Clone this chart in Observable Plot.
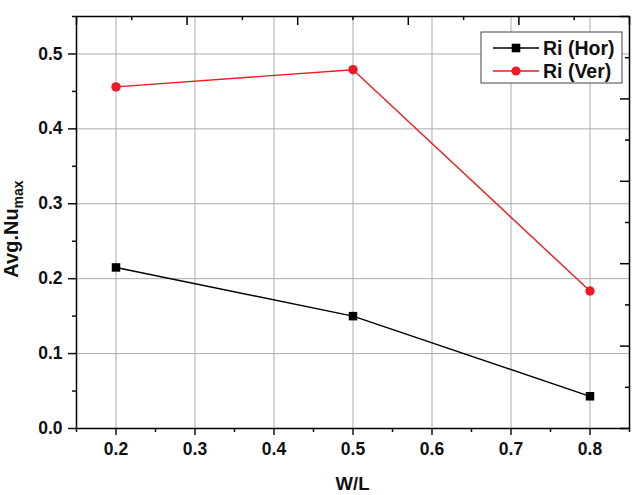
<!DOCTYPE html>
<html>
<head>
<meta charset="utf-8">
<script src="https://cdn.jsdelivr.net/npm/d3@7"></script>
<script src="https://cdn.jsdelivr.net/npm/@observablehq/plot@0.6"></script>
<style>
  body { margin: 0; background: #fff; }
  #chart svg { display: block; }
</style>
</head>
<body>
<div id="chart"></div>
<script>
// Data
const wl = [0.2, 0.5, 0.8];
const riHor = [0.215, 0.150, 0.043];
const riVer = [0.456, 0.479, 0.1835];
const seriesNames = ["Ri (Hor)", "Ri (Ver)"];

// Tick values
const xTicks = [0.2, 0.3, 0.4, 0.5, 0.6, 0.7, 0.8];
const xMinor = [0.15, 0.25, 0.35, 0.45, 0.55, 0.65, 0.75, 0.85];
const yTicks = [0.0, 0.1, 0.2, 0.3, 0.4, 0.5];
const yMinor = [0.05, 0.15, 0.25, 0.35, 0.45, 0.55];
// Top / right mirror axes (independent Origin-style ticks)
const topMajor = [0.15, 0.29, 0.43, 0.57, 0.71, 0.85];
const topMinor = [0.22, 0.36, 0.50, 0.64, 0.78];
const rightMajor = [0.0, 0.11, 0.22, 0.33, 0.44, 0.55];
const rightMinor = [0.055, 0.165, 0.275, 0.385, 0.495];

const hor = wl.map((x, i) => ({x, y: riHor[i]}));
const ver = wl.map((x, i) => ({x, y: riVer[i]}));

const W = 640, H = 495;
const mL = 76, mR = 11, mT = 16, mB = 67;
const innerW = W - mL - mR, innerH = H - mT - mB;
const red = "#ed1c24";
const grid = "#ababab";

const chart = Plot.plot({
  width: W, height: H,
  marginLeft: mL, marginRight: mR, marginTop: mT, marginBottom: mB,
  style: {fontFamily: "'Liberation Sans', Arial, sans-serif", fontSize: "17.5px", fontWeight: "bold", color: "#111", background: "#fff"},
  x: {domain: [0.15, 0.85]},
  y: {domain: [0, 0.55]},
  marks: [
    Plot.gridX(xTicks, {stroke: grid, strokeOpacity: 1, strokeWidth: 1}),
    Plot.gridY(yTicks, {stroke: grid, strokeOpacity: 1, strokeWidth: 1}),
    Plot.axisX(xTicks, {tickSize: 7, tickPadding: 7, tickFormat: d3.format(".1f"), label: null, strokeWidth: 1.5, fontSize: 17.5, fontWeight: "bold"}),
    Plot.axisX(xMinor, {tickSize: 4, tickFormat: () => "", label: null, strokeWidth: 1.5}),
    Plot.axisY(yTicks, {tickSize: 8, tickPadding: 6, tickFormat: d3.format(".1f"), label: null, strokeWidth: 1.5, fontSize: 17.5, fontWeight: "bold"}),
    Plot.axisY(yMinor, {tickSize: 4, tickFormat: () => "", label: null, strokeWidth: 1.5}),
    Plot.ruleX(topMajor, {x: d => d, insetBottom: innerH - 9, stroke: "black", strokeWidth: 1.5}),
    Plot.ruleX(topMinor, {x: d => d, insetBottom: innerH - 4, stroke: "black", strokeWidth: 1.5}),
    Plot.ruleY(rightMajor, {y: d => d, insetLeft: innerW - 9, stroke: "black", strokeWidth: 1.5}),
    Plot.ruleY(rightMinor, {y: d => d, insetLeft: innerW - 4, stroke: "black", strokeWidth: 1.5}),
    Plot.line(hor, {x: "x", y: "y", stroke: "black", strokeWidth: 1.4}),
    Plot.line(ver, {x: "x", y: "y", stroke: red, strokeWidth: 1.4}),
    Plot.dot(hor, {x: "x", y: "y", symbol: "square", r: 4.8, fill: "black", stroke: "none"}),
    Plot.dot(ver, {x: "x", y: "y", symbol: "circle", r: 4.7, fill: red, stroke: "none"}),
    Plot.frame({stroke: "black", strokeWidth: 1.5})
  ]
});

document.getElementById("chart").appendChild(chart);
const svg = d3.select(chart);
const ff = "'Liberation Sans', Arial, sans-serif";

// X title
svg.append("text")
  .attr("x", mL + innerW / 2).attr("y", 490)
  .attr("text-anchor", "middle")
  .attr("font-family", ff).attr("font-weight", "bold").attr("font-size", 18.5)
  .attr("fill", "#111")
  .text("W/L");

// Y title with subscript
const yt = svg.append("text")
  .attr("transform", `translate(18,${229}) rotate(-90)`)
  .attr("text-anchor", "middle")
  .attr("font-family", ff).attr("font-weight", "bold").attr("font-size", 20)
  .attr("fill", "#111");
yt.append("tspan").text("Avg.Nu");
yt.append("tspan").attr("font-size", 14).attr("dy", 5).text("max");

// Legend
const lg = svg.append("g").attr("text-anchor", "start");
lg.append("rect").attr("x", 481).attr("y", 32).attr("width", 141).attr("height", 51)
  .attr("fill", "white").attr("stroke", "#444").attr("stroke-width", 1);
const rows = [
  {name: seriesNames[0], color: "black", sym: "square", y: 48},
  {name: seriesNames[1], color: red, sym: "circle", y: 71}
];
rows.forEach(r => {
  lg.append("line").attr("x1", 493).attr("x2", 539).attr("y1", r.y).attr("y2", r.y)
    .attr("stroke", r.color).attr("stroke-width", 1.3);
  if (r.sym === "square") {
    lg.append("rect").attr("x", 516 - 4.3).attr("y", r.y - 4.3).attr("width", 8.6).attr("height", 8.6).attr("fill", r.color);
  } else {
    lg.append("circle").attr("cx", 516).attr("cy", r.y).attr("r", 4.6).attr("fill", r.color);
  }
  lg.append("text").attr("x", 543).attr("y", r.y + 7)
    .attr("text-anchor", "start")
    .attr("font-family", ff).attr("font-weight", "bold").attr("font-size", 19.5)
    .attr("fill", "#111").text(r.name);
});
</script>
</body>
</html>
